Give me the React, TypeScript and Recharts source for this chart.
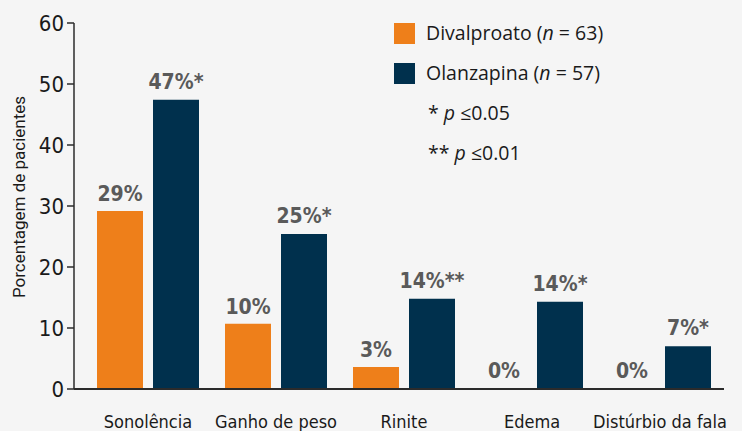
import { BarChart, Bar, XAxis, YAxis, Legend, LabelList, Rectangle } from 'recharts';

const categories = ['Sonolência', 'Ganho de peso', 'Rinite', 'Edema', 'Distúrbio da fala'];
const divalproato = [29.2, 10.7, 3.6, 0, 0];
const olanzapina = [47.4, 25.4, 14.8, 14.3, 7.0];
const divalproatoLabels = ['29%', '10%', '3%', '0%', '0%'];
const olanzapinaLabels = ['47%*', '25%*', '14%**', '14%*', '7%*'];
const yTicks = [0, 10, 20, 30, 40, 50, 60];
const seriesNames = ['Divalproato', 'Olanzapina'];
const seriesN = [63, 57];
const notes = [
  { stars: '*', text: '≤0.05' },
  { stars: '**', text: '≤0.01' },
];

const ORANGE = '#ee7f1a';
const NAVY = '#00304d';
const LABEL_GRAY = '#5a5a5a';
const AXIS = '#2b2b2b';

const data = categories.map((c, i) => ({
  name: c,
  divalproato: divalproato[i],
  olanzapina: olanzapina[i],
  divLabel: divalproatoLabels[i],
  olaLabel: olanzapinaLabels[i],
}));

const condensed = { fontFamily: 'DejaVu Sans', fontStretch: 'condensed' as const };

const labelStyle = {
  ...condensed,
  fontWeight: 700,
  fontSize: 21,
  fill: LABEL_GRAY,
};

const legendFont = '"Open Sans", "Noto Sans", sans-serif';

// zero values still get a label, but no visible bar
const BarShape = (props: any) => (props.height > 1.5 ? <Rectangle {...props} /> : <g />);

function LegendBox({ payload }: any) {
  return (
    <div style={{ fontFamily: legendFont, fontSize: 19.5, color: '#1a1a1a', lineHeight: '40px' }}>
      {(payload || []).map((p: any, i: number) => (
        <div key={p.value} style={{ display: 'flex', alignItems: 'center', height: 40 }}>
          <span style={{ width: 21, height: 21, background: p.color, display: 'inline-block', marginRight: 11 }} />
          <span>
            {seriesNames[i]} (<i>n</i> = {seriesN[i]})
          </span>
        </div>
      ))}
      {notes.map(n => (
        <div key={n.stars} style={{ height: 40, paddingLeft: 34 }}>
          {n.stars} <i>p</i> {n.text}
        </div>
      ))}
    </div>
  );
}

export default function App() {
  return (
    <div style={{ position: 'absolute', left: 0, top: 0, width: 742, height: 431, background: '#f5f5f5' }}>
      <BarChart
        width={742}
        height={431}
        data={data}
        margin={{ top: 23, right: 18, bottom: 0, left: 0 }}
        barSize={46}
        barGap={10}
      >
        <XAxis
          dataKey="name"
          height={42}
          padding={{ left: 10, right: 0 }}
          tickLine={false}
          axisLine={{ stroke: AXIS, strokeWidth: 2 }}
          tick={{ style: condensed, fontSize: 18, fill: '#1a1a1a' }}
          tickMargin={20}
          interval={0}
        />
        <YAxis
          width={74}
          domain={[0, 60]}
          ticks={yTicks}
          tickSize={7}
          tickMargin={3}
          axisLine={{ stroke: AXIS, strokeWidth: 1.5 }}
          tickLine={{ stroke: AXIS, strokeWidth: 1.5 }}
          tick={{ style: condensed, fontSize: 22, fill: '#1a1a1a' }}
          label={{
            value: 'Porcentagem de pacientes',
            angle: -90,
            position: 'insideLeft',
            offset: 19,
            dy: -9,
            style: { textAnchor: 'middle', fontFamily: 'Roboto', fontSize: 17, fill: '#1a1a1a' },
          }}
        />
        <Legend
          layout="vertical"
          align="center"
          verticalAlign="middle"
          wrapperStyle={{ top: 13, left: 394, width: 300 }}
          content={<LegendBox />}
        />
        <Bar dataKey="divalproato" name="Divalproato" fill={ORANGE} minPointSize={1} shape={BarShape} isAnimationActive={false}>
          <LabelList dataKey="divLabel" position="top" offset={10} style={labelStyle} />
        </Bar>
        <Bar dataKey="olanzapina" name="Olanzapina" fill={NAVY} isAnimationActive={false}>
          <LabelList dataKey="olaLabel" position="top" offset={11} style={labelStyle} />
        </Bar>
      </BarChart>
    </div>
  );
}
